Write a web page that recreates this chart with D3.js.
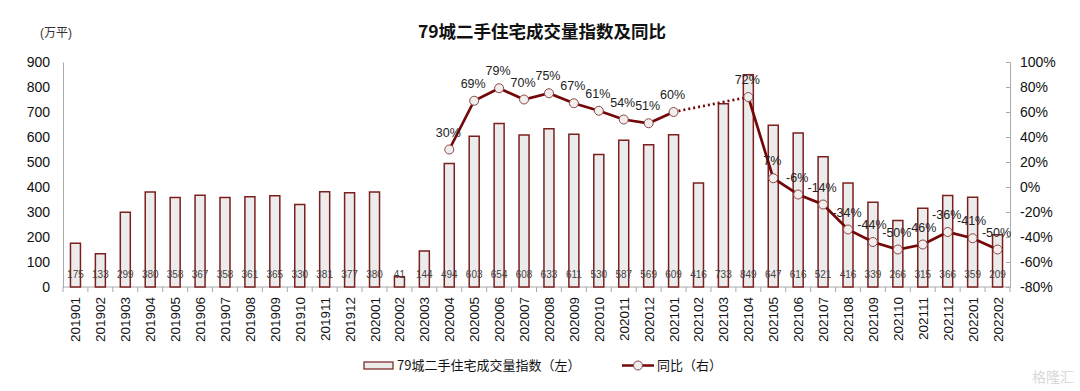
<!DOCTYPE html>
<html>
<head>
<meta charset="utf-8">
<script src="https://cdn.jsdelivr.net/npm/d3@7"></script>
<style>
  body { margin: 0; background: #fff; }
  svg text { font-family: "Liberation Sans", Arial, "Noto Sans CJK SC", sans-serif; }
</style>
</head>
<body>
<svg id="chart"></svg>
<script>
const months = ["201901","201902","201903","201904","201905","201906","201907","201908","201909","201910","201911","201912",
  "202001","202002","202003","202004","202005","202006","202007","202008","202009","202010","202011","202012",
  "202101","202102","202103","202104","202105","202106","202107","202108","202109","202110","202111","202112",
  "202201","202202"];
const volume = [175,133,299,380,358,367,358,361,365,330,381,377,
  380,41,144,494,603,654,608,633,611,530,587,569,
  609,416,733,849,647,616,521,416,339,266,315,366,
  359,209];
const yoy = [null,null,null,null,null,null,null,null,null,null,null,null,
  null,null,null,30,69,79,70,75,67,61,54,51,
  60,null,null,72,7,-6,-14,-34,-44,-50,-46,-36,
  -41,-50];
const leftTicks = [0,100,200,300,400,500,600,700,800,900];
const rightTicks = [-80,-60,-40,-20,0,20,40,60,80,100];

const width = 1080, height = 391;
const margin = {left: 63, right: 70, top: 62, bottom: 104};
const dark = "#740808";

const svg = d3.select("#chart").attr("width", width).attr("height", height);

const x = d3.scaleBand().domain(months).range([margin.left, width - margin.right]);
const yL = d3.scaleLinear().domain([0, 900]).range([height - margin.bottom, margin.top]);
const yR = d3.scaleLinear().domain([-80, 100]).range([height - margin.bottom, margin.top]);
const cx = m => x(m) + x.bandwidth() / 2;

// title
svg.append("text")
  .attr("x", 542).attr("y", 38)
  .attr("text-anchor", "middle")
  .style("font-size", "17.5px").style("font-weight", "bold").style("fill", "#111")
  .style("font-family", "'Noto Sans CJK SC', sans-serif")
  .text("79城二手住宅成交量指数及同比");

svg.append("text")
  .attr("x", 40).attr("y", 37)
  .style("font-size", "12px").style("fill", "#333")
  .text("(万平)");

// left axis
const axL = svg.append("g")
  .attr("transform", `translate(${margin.left},0)`)
  .call(d3.axisLeft(yL).tickValues(leftTicks).tickSize(0).tickPadding(13));
axL.select(".domain").attr("stroke", "#aaa");
axL.selectAll("text").style("font-size", "14px").style("fill", "#111");

// right axis
const axR = svg.append("g")
  .attr("transform", `translate(${width - margin.right},0)`)
  .call(d3.axisRight(yR).tickValues(rightTicks).tickFormat(d => d + "%").tickSizeInner(-4).tickSizeOuter(-4).tickPadding(10));
axR.select(".domain").attr("stroke", "#aaa");
axR.selectAll(".tick line").attr("stroke", "#aaa");
axR.selectAll("text").style("font-size", "14px").style("fill", "#111");

// x axis
const xBase = yL(0);
const axX = svg.append("g").attr("transform", `translate(0,${xBase})`);
axX.append("line")
  .attr("x1", margin.left).attr("x2", width - margin.right)
  .attr("stroke", "#aaa");
axX.selectAll("line.tk")
  .data(months.concat(["end"]))
  .enter().append("line")
  .attr("class", "tk")
  .attr("x1", (d, i) => margin.left + i * x.bandwidth())
  .attr("x2", (d, i) => margin.left + i * x.bandwidth())
  .attr("y1", 0).attr("y2", 5)
  .attr("stroke", "#aaa");
axX.selectAll("text")
  .data(months)
  .enter().append("text")
  .attr("transform", d => `translate(${cx(d) + 5},10) rotate(-90)`)
  .attr("text-anchor", "end")
  .style("font-size", "13.5px").style("fill", "#111")
  .text(d => d);

// bars
const barW = 10;
svg.append("g").selectAll("rect")
  .data(volume)
  .enter().append("rect")
  .attr("x", (d, i) => cx(months[i]) - barW / 2)
  .attr("y", d => yL(d))
  .attr("width", barW)
  .attr("height", d => yL(0) - yL(d))
  .attr("fill", "#ececec")
  .attr("stroke", "#7b1f1f")
  .attr("stroke-width", 1.5);

svg.append("g").selectAll("text")
  .data(volume)
  .enter().append("text")
  .attr("x", (d, i) => cx(months[i]))
  .attr("y", yL(0) - 9)
  .attr("text-anchor", "middle")
  .style("font-size", "10px").style("fill", "#444")
  .text(d => d);

// yoy line
const pts = yoy.map((v, i) => ({m: months[i], v: v}));
const line = d3.line()
  .defined(d => d.v !== null)
  .x(d => cx(d.m))
  .y(d => yR(d.v));

svg.append("path")
  .datum(pts)
  .attr("d", line)
  .attr("fill", "none")
  .attr("stroke", dark)
  .attr("stroke-width", 2.7);

// dotted bridge across missing months
const gapA = pts[24], gapB = pts[27];
svg.append("line")
  .attr("x1", cx(gapA.m)).attr("y1", yR(gapA.v))
  .attr("x2", cx(gapB.m)).attr("y2", yR(gapB.v))
  .attr("stroke", dark)
  .attr("stroke-width", 2.7)
  .attr("stroke-dasharray", "2,3");

const valid = pts.filter(d => d.v !== null);
svg.append("g").selectAll("circle")
  .data(valid)
  .enter().append("circle")
  .attr("cx", d => cx(d.m))
  .attr("cy", d => yR(d.v))
  .attr("r", 4.5)
  .attr("fill", "#f2eeee")
  .attr("stroke", "#8a4646")
  .attr("stroke-width", 1);

svg.append("g").selectAll("text")
  .data(valid)
  .enter().append("text")
  .attr("x", d => cx(d.m) - 1)
  .attr("y", d => yR(d.v) - 13)
  .attr("text-anchor", "middle")
  .style("font-size", "12.5px").style("fill", "#222")
  .text(d => d.v + "%");

// legend
const lg = svg.append("g");
lg.append("rect")
  .attr("x", 364).attr("y", 362).attr("width", 29).attr("height", 7)
  .attr("fill", "#ececec").attr("stroke", "#7b1f1f").attr("stroke-width", 1.2);
lg.append("text")
  .attr("x", 397).attr("y", 370)
  .style("font-size", "13px").style("fill", "#111")
  .style("font-family", "'Noto Sans CJK SC', sans-serif")
  .text("79城二手住宅成交量指数（左）");
lg.append("line")
  .attr("x1", 622).attr("x2", 654).attr("y1", 365.5).attr("y2", 365.5)
  .attr("stroke", dark).attr("stroke-width", 2.5);
lg.append("circle")
  .attr("cx", 638).attr("cy", 365.5).attr("r", 4.5)
  .attr("fill", "#f2eeee").attr("stroke", "#8a4646");
lg.append("text")
  .attr("x", 657).attr("y", 370)
  .style("font-size", "13px").style("fill", "#111")
  .style("font-family", "'Noto Sans CJK SC', sans-serif")
  .text("同比（右）");

// watermark
svg.append("text")
  .attr("x", 1074).attr("y", 382)
  .attr("text-anchor", "end")
  .style("font-size", "14px").style("fill", "#d8d8d8")
  .style("font-family", "'Noto Sans CJK SC', sans-serif")
  .text("格隆汇");
</script>
</body>
</html>
